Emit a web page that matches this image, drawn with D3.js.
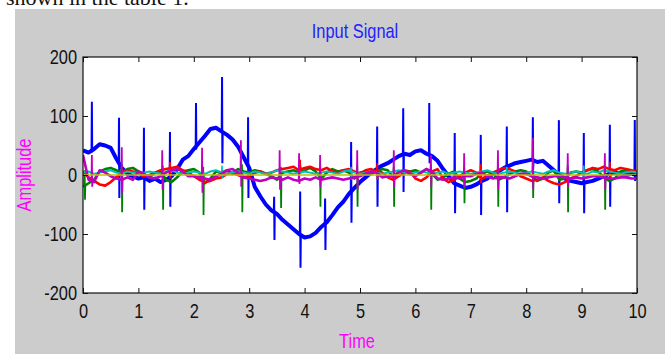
<!DOCTYPE html>
<html>
<head>
<meta charset="utf-8">
<script src="https://cdn.jsdelivr.net/npm/d3@7"></script>
<style>
  body { margin: 0; background: #fff; }
  svg { display: block; }
  .tick text { font-family: "Liberation Sans", Arial, sans-serif; font-size: 20px; fill: #111; }
</style>
</head>
<body>
<div id="chart"></div>
<script>
// sample times (s), one every 0.1 s
const time = d3.range(0, 101).map(i => i / 10);

const yTicks = [-200, -100, 0, 100, 200];
const xTicks = [0, 1, 2, 3, 4, 5, 6, 7, 8, 9, 10];

// slow wave of each channel
const blue = [42, 38, 44, 52, 50, 46, 28, 12, 2, -2,
  -6, -4, -10, -6, -12, -8, -2, 10, 26, 32,
  44, 55, 66, 78, 80, 74, 68, 60, 48, 30,
  12, -20, -36, -50, -60, -66, -76, -84, -92, -100,
  -106, -104, -98, -88, -80, -68, -55, -45, -32, -22,
  -12, -4, 4, 10, 16, 20, 26, 32, 36, 34,
  40, 42, 36, 32, 24, 10, -2, -14, -18, -22,
  -20, -16, -10, -6, 2, 6, 12, 16, 20, 22,
  24, 26, 22, 24, 16, 8, 0, -6, -10, -12,
  -14, -12, -10, -6, -2, 2, 4, 2, 0, 2,
  0];

const green = [-20, -14, -8, 6, 10, 12, 8, 4, 10, 12,
  6, 2, -4, 4, 6, -8, -12, -4, 6, 8,
  10, 4, -14, -6, 6, 4, 8, 2, 10, 6,
  4, 8, 6, 2, -2, -8, 4, 6, 8, 4,
  8, 12, 6, -6, 4, 10, 6, 8, 4, -6,
  4, 6, 2, 6, 10, 8, -4, 6, 8, 6,
  8, 4, 10, 2, -8, -4, 2, 6, -6, -12,
  -10, -6, 4, 6, 2, -8, -4, 2, 6, 8,
  6, -2, -10, -6, 4, 8, -8, -6, 4, 6,
  4, 8, 10, 6, -4, -10, -6, 6, 8, 6,
  4];

const red = [6, -4, -10, -16, -18, -12, -4, 4, 8, 6,
  2, -2, 0, 4, 8, 10, 12, 14, 8, 4,
  -2, -8, -12, -10, -6, -4, 2, 4, 0, -4,
  -2, 4, 6, 2, 4, 8, 10, 12, 14, 8,
  12, 14, 10, 8, 12, 6, 4, 8, 10, 6,
  2, 8, 10, 6, 4, -4, -8, -2, 4, 6,
  -6, -10, -4, 6, 10, -6, -12, -8, -2, 4,
  8, 4, -6, -2, 4, 8, 12, 10, 6, -2,
  -6, -10, -8, -4, -10, -14, -16, -12, -6, -2,
  4, 8, 12, 10, 14, 10, 8, 12, 10, 8,
  6];

const cyan = [4, 6, 2, 4, 6, 8, 4, 2, 6, 4,
  2, 4, 6, 4, 2, 6, 8, 4, 2, 4,
  6, 4, 2, 6, 8, 4, 2, 4, 6, 4,
  2, 6, 4, 2, 4, 8, 6, 4, 2, 4,
  6, 4, 2, 4, 6, 4, 2, 6, 8, 4,
  2, 4, 6, 4, 2, 4, 6, 8, 4, 2,
  4, 6, 4, 2, 4, 6, 2, 4, 6, 4,
  2, 4, 6, 8, 4, 2, 4, 6, 4, 2,
  4, 6, 4, 2, 6, 8, 4, 2, 4, 6,
  4, 2, 6, 4, 8, 6, 4, 2, 4, 6,
  4];

const magenta = [34, -8, -12, 8, 4, -2, -6, -8, -4, -8,
  6, 2, -4, -6, -2, 4, 8, 10, 6, -2,
  -2, -4, -6, -8, -2, 2, 8, 10, 4, -4,
  -6, -8, -10, -8, -4, -6, -8, -4, -8, -10,
  -6, -8, -4, -8, -6, -4, -6, -8, -6, -4,
  -2, 2, 6, 4, -4, -2, -2, 4, 8, 2,
  -2, 4, 10, 6, -6, -8, -6, -4, -6, -2,
  -2, 2, 4, -2, -6, -4, -4, -6, -2, 2,
  2, -2, -4, -6, -4, -2, -2, -4, -6, -4,
  -6, -4, -2, -2, -4, -6, -6, -4, -4, -6,
  -6];

const yellowTime = [0, 10];
const yellow = [0, 0];

// spikes: [time, level around it, top, bottom]
const blueSpikes = [
  [0.16, 40, 124, 40], [0.65, 20, 97, -39], [1.10, -4, 80, -59], [1.57, -6, 73, -54],
  [2.04, 44, 122, 44], [2.51, 74, 166, 20], [2.98, 14, 98, -39], [3.45, -60, -37, -110],
  [3.92, -100, -28, -157], [4.37, -82, -40, -127], [4.84, -28, 56, -81], [5.31, 10, 82, -54],
  [5.78, 34, 113, -29], [6.25, 34, 122, 20], [6.71, -14, 71, -65], [7.18, -12, 68, -68],
  [7.65, 14, 82, -63], [8.12, 24, 98, 10], [8.59, 0, 93, -48], [9.04, -14, 71, -65],
  [9.51, 2, 85, -54], [9.96, 2, 93, -10]
];
const greenSpikes = [
  [0.03, -18, 8, -42], [0.70, 8, 18, -63], [1.44, 6, 16, -59], [2.17, 4, 14, -68],
  [2.87, 6, 18, -63], [3.57, -4, 14, -56], [4.28, 6, 12, -54], [4.95, 4, 16, -54],
  [5.61, 6, 14, -54], [6.28, 4, 16, -59], [6.88, -6, 12, -48], [7.49, 4, 14, -54],
  [8.12, 6, 18, -39], [8.75, 4, 16, -63], [9.42, 4, 14, -59]
];
const magentaSpikes = [
  [0.16, -10, 34, -20], [0.70, -6, 47, -30], [1.43, -4, 42, -25], [2.15, -4, 46, -30],
  [2.85, 6, 59, -20], [3.55, -6, 42, -25], [3.90, -8, 37, -15], [4.28, -6, 34, -20],
  [4.95, -4, 42, -25], [5.61, -2, 42, -20], [6.28, 6, 34, -20], [6.88, -4, 37, -20],
  [7.49, -4, 42, -25], [8.12, -2, 63, -25], [8.75, -4, 37, -20], [9.42, -4, 37, -25]
];
const redSpikes = [
  [1.57, 12, 22, -6], [3.92, 14, 26, 2], [5.31, 8, 20, -8], [7.18, 4, 18, -14], [9.51, 10, 22, -4]
];
const cyanSpikes = [
  [2.51, 6, 16, -6], [4.84, 4, 14, -8], [7.65, 6, 14, -6], [9.04, 4, 16, -6]
];

const width = 665, height = 354;
const margin = { left: 83, top: 57, right: 637, bottom: 293 };
const squeeze = 0.82; // MATLAB's narrow Helvetica

const svg = d3.select('#chart').append('svg')
  .attr('width', width)
  .attr('height', height);

// figure background
svg.append('rect')
  .attr('x', 15).attr('y', 9)
  .attr('width', width - 15).attr('height', height - 9)
  .attr('fill', '#cccccc');

// text of the page above the figure, cut by the crop
svg.append('text')
  .attr('x', 6).attr('y', 5)
  .attr('font-family', '"Liberation Serif", "DejaVu Serif", serif')
  .attr('font-size', 22)
  .attr('fill', '#111')
  .text('shown in the table 1.');

const x = d3.scaleLinear().domain([0, 10]).range([margin.left, margin.right]);
const y = d3.scaleLinear().domain([-200, 200]).range([margin.bottom, margin.top]);

svg.append('rect')
  .attr('x', margin.left).attr('y', margin.top)
  .attr('width', margin.right - margin.left).attr('height', margin.bottom - margin.top)
  .attr('fill', '#fff');

svg.append('clipPath').attr('id', 'plotclip')
  .append('rect')
  .attr('x', margin.left).attr('y', margin.top)
  .attr('width', margin.right - margin.left).attr('height', margin.bottom - margin.top);

const line = d3.line()
  .x(d => x(d[0]))
  .y(d => y(d[1]));

// a spike: level -> top -> bottom -> level, nearly vertical
function spikePoints(s) {
  return [[s[0] - 0.006, s[1]], [s[0], s[2]], [s[0] + 0.006, s[3]], [s[0] + 0.012, s[1]]];
}

const channels = [
  { vals: blue, times: time, spikes: blueSpikes, color: '#0000ff', w: 4, sw: 2 },
  { vals: green, times: time, spikes: greenSpikes, color: '#008000', w: 2.6, sw: 1.8 },
  { vals: red, times: time, spikes: redSpikes, color: '#ff0000', w: 2.6, sw: 1.8 },
  { vals: cyan, times: time, spikes: cyanSpikes, color: '#00bfbf', w: 2, sw: 1.5 },
  { vals: magenta, times: time, spikes: magentaSpikes, color: '#bf00bf', w: 2.6, sw: 1.8 },
  { vals: yellow, times: yellowTime, spikes: [], color: '#bfbf00', w: 1.6, sw: 1.4 }
];

const plot = svg.append('g').attr('clip-path', 'url(#plotclip)');

const chG = plot.selectAll('g.ch')
  .data(channels)
  .enter()
  .append('g')
  .attr('class', 'ch');

chG.append('path')
  .attr('d', d => line(d.vals.map((v, i) => [d.times[i], v])))
  .attr('fill', 'none')
  .attr('stroke', d => d.color)
  .attr('stroke-width', d => d.w)
  .attr('stroke-linejoin', 'round');

chG.each(function (d) {
  d3.select(this).selectAll('path.spike')
    .data(d.spikes)
    .enter()
    .append('path')
    .attr('class', 'spike')
    .attr('d', s => line(spikePoints(s)))
    .attr('fill', 'none')
    .attr('stroke', d.color)
    .attr('stroke-width', d.sw);
});

// axes, MATLAB style: ticks inside, box around
const bottomAxis = svg.append('g')
  .attr('transform', `translate(0,${margin.bottom})`)
  .call(d3.axisBottom(x).tickValues(xTicks).tickSize(-5).tickFormat(d => String(d)));
bottomAxis.selectAll('.tick text')
  .attr('y', 0).attr('dy', 0)
  .attr('transform', `translate(0,25) scale(${squeeze},1)`);

svg.append('g')
  .attr('transform', `translate(0,${margin.top})`)
  .call(d3.axisTop(x).tickValues(xTicks).tickSize(-5).tickFormat(''));

const leftAxis = svg.append('g')
  .attr('transform', `translate(${margin.left},0)`)
  .call(d3.axisLeft(y).tickValues(yTicks).tickSize(-5).tickFormat(d => String(d)));
leftAxis.selectAll('.tick text')
  .attr('x', 0)
  .attr('dy', '0.34em')
  .attr('transform', `translate(-6,0) scale(${squeeze},1)`);

svg.append('g')
  .attr('transform', `translate(${margin.right},0)`)
  .call(d3.axisRight(y).tickValues(yTicks).tickSize(-5).tickFormat(''));

svg.selectAll('.domain').remove();
svg.selectAll('.tick line').attr('stroke', '#111');

svg.append('rect')
  .attr('x', margin.left).attr('y', margin.top)
  .attr('width', margin.right - margin.left).attr('height', margin.bottom - margin.top)
  .attr('fill', 'none')
  .attr('stroke', '#111')
  .attr('stroke-width', 1.2);

const labelFont = '"Liberation Sans", Arial, sans-serif';

function label(tx, ty, rot, txt, color) {
  svg.append('text')
    .attr('transform', `translate(${tx},${ty}) rotate(${rot}) scale(${squeeze},1)`)
    .attr('text-anchor', 'middle')
    .attr('font-family', labelFont)
    .attr('font-size', 20)
    .attr('fill', color)
    .text(txt);
}

label(355, 38, 0, 'Input Signal', '#2222ff');
label(357, 348, 0, 'Time', '#ff00ff');
label(31, 175, -90, 'Amplitude', '#ff00ff');
</script>
</body>
</html>
